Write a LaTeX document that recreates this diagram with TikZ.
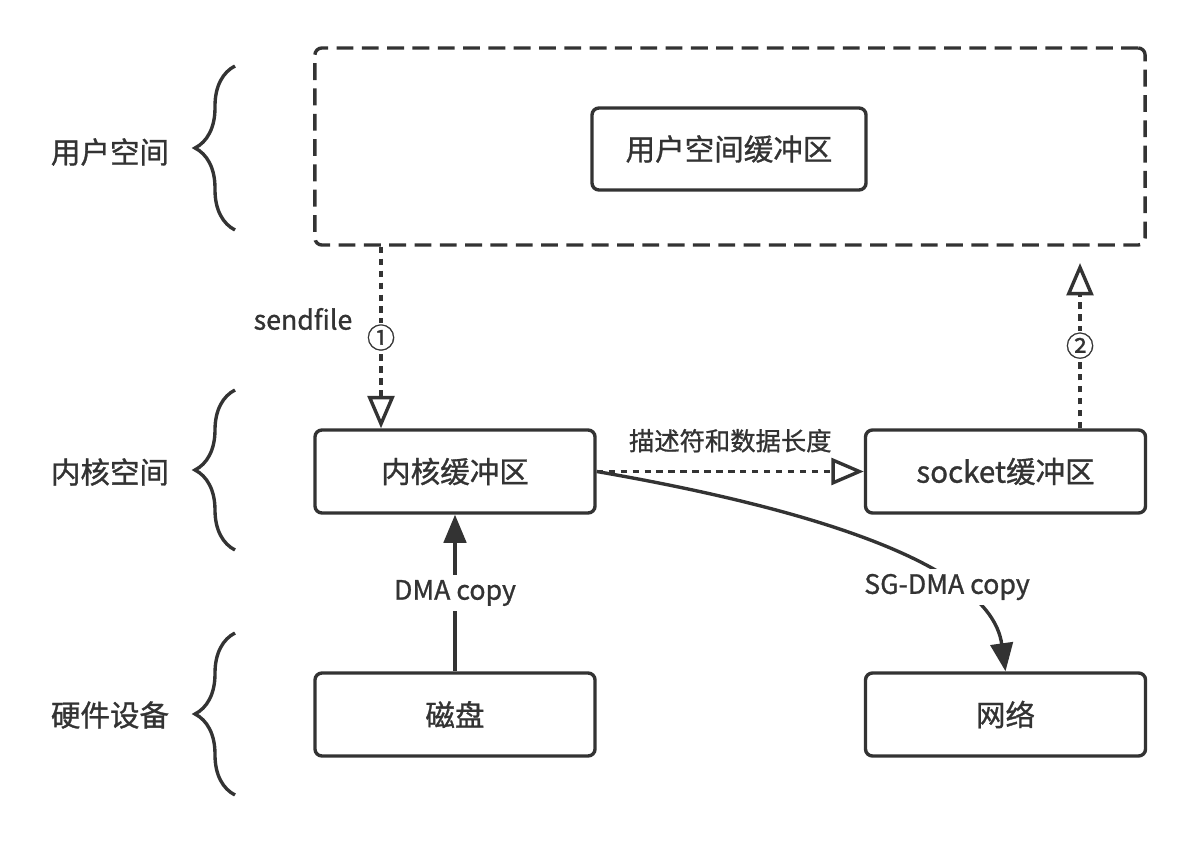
\documentclass[tikz,border=0pt]{standalone}
\usepackage{fontspec}
\setmainfont[UprightFeatures={FakeBold=1}]{Noto Sans CJK SC}
\usepackage{tikz}
\usetikzlibrary{arrows.meta}
\usetikzlibrary{decorations.pathreplacing}
\definecolor{ink}{HTML}{333333}

\begin{document}
\begin{tikzpicture}[x=0.025cm,y=-0.025cm,color=ink,text=ink,line width=2.4pt]
\useasboundingbox (0,0) rectangle (1194,845);

\begin{scope}[every node/.style={rectangle,rounded corners=5pt,draw,
              minimum width=7cm,minimum height=2.075cm,
              font=\fontsize{21}{25}\selectfont}]
    \node (user) [dash pattern=on 12pt off 6pt,minimum width=20.75cm,
                  minimum height=4.925cm] at (730,146.5) {};
    \node (ubuf) [minimum width=6.85cm,minimum height=2.05cm] at (729,149) {用户空间缓冲区};
    \node (kern) at (455,471.5) {内核缓冲区};
    \node (sock) at (1005.5,471.5) {socket缓冲区};
    \node (disk) at (455,714.5) {磁盘};
    \node (net) at (1005.5,714.5) {网络};
    \end{scope}

\begin{scope}[every node/.style={font=\fontsize{21}{25}\selectfont}]
    \node (lu) at (110,152) {用户空间};
    \node (lk) at (110,472) {内核空间};
    \node (lh) at (110,715) {硬件设备};
    \end{scope}

% braces
\begin{scope}[decoration={brace,amplitude=1cm}]
    \draw[decorate] (235,230) -- (235,66);
    \draw[decorate] (235,550) -- (235,390);
    \draw[decorate] (235,795) -- (235,633);
    \end{scope}

\coordinate (a1) at (381,245);
\coordinate (a2) at (1080,263);

\begin{scope}[>={Triangle[open,length=23pt,width=19pt]},
              every node/.style={font=\fontsize{18}{22}\selectfont},
              every edge/.style={draw=ink,line width=2.4pt,dash pattern=on 4.5pt off 4pt}]
    \path [->] (user.south -| a1) edge node[pos=0.5,fill=white,inner sep=1pt,font=\fontsize{20}{24}\selectfont] (n1) {①} (a1 |- kern.north);
    \path [->] (a2 |- sock.north) edge node[pos=0.5,fill=white,inner sep=1pt,font=\fontsize{20}{24}\selectfont] (n2) {②} (a2);
    \path [->] (kern.east) edge node[above=9pt] (desc) {描述符和数据长度} (sock.west);
    \end{scope}

\node (sf) [font=\fontsize{19}{23}\selectfont] at (303,319) {sendfile};

\begin{scope}[>={Triangle[length=20pt,width=16pt]},
              every node/.style={fill=white,font=\fontsize{19}{23}\selectfont}]
    \path [->] (disk.north) edge node[pos=0.5] (dma) {DMA copy} (kern.south);
    \draw [->] (kern.east) .. controls (790,505) and (990,560) .. (net.north);
    \node (sg) at (947,587) {SG-DMA copy};
    \end{scope}

\end{tikzpicture}
\end{document}
